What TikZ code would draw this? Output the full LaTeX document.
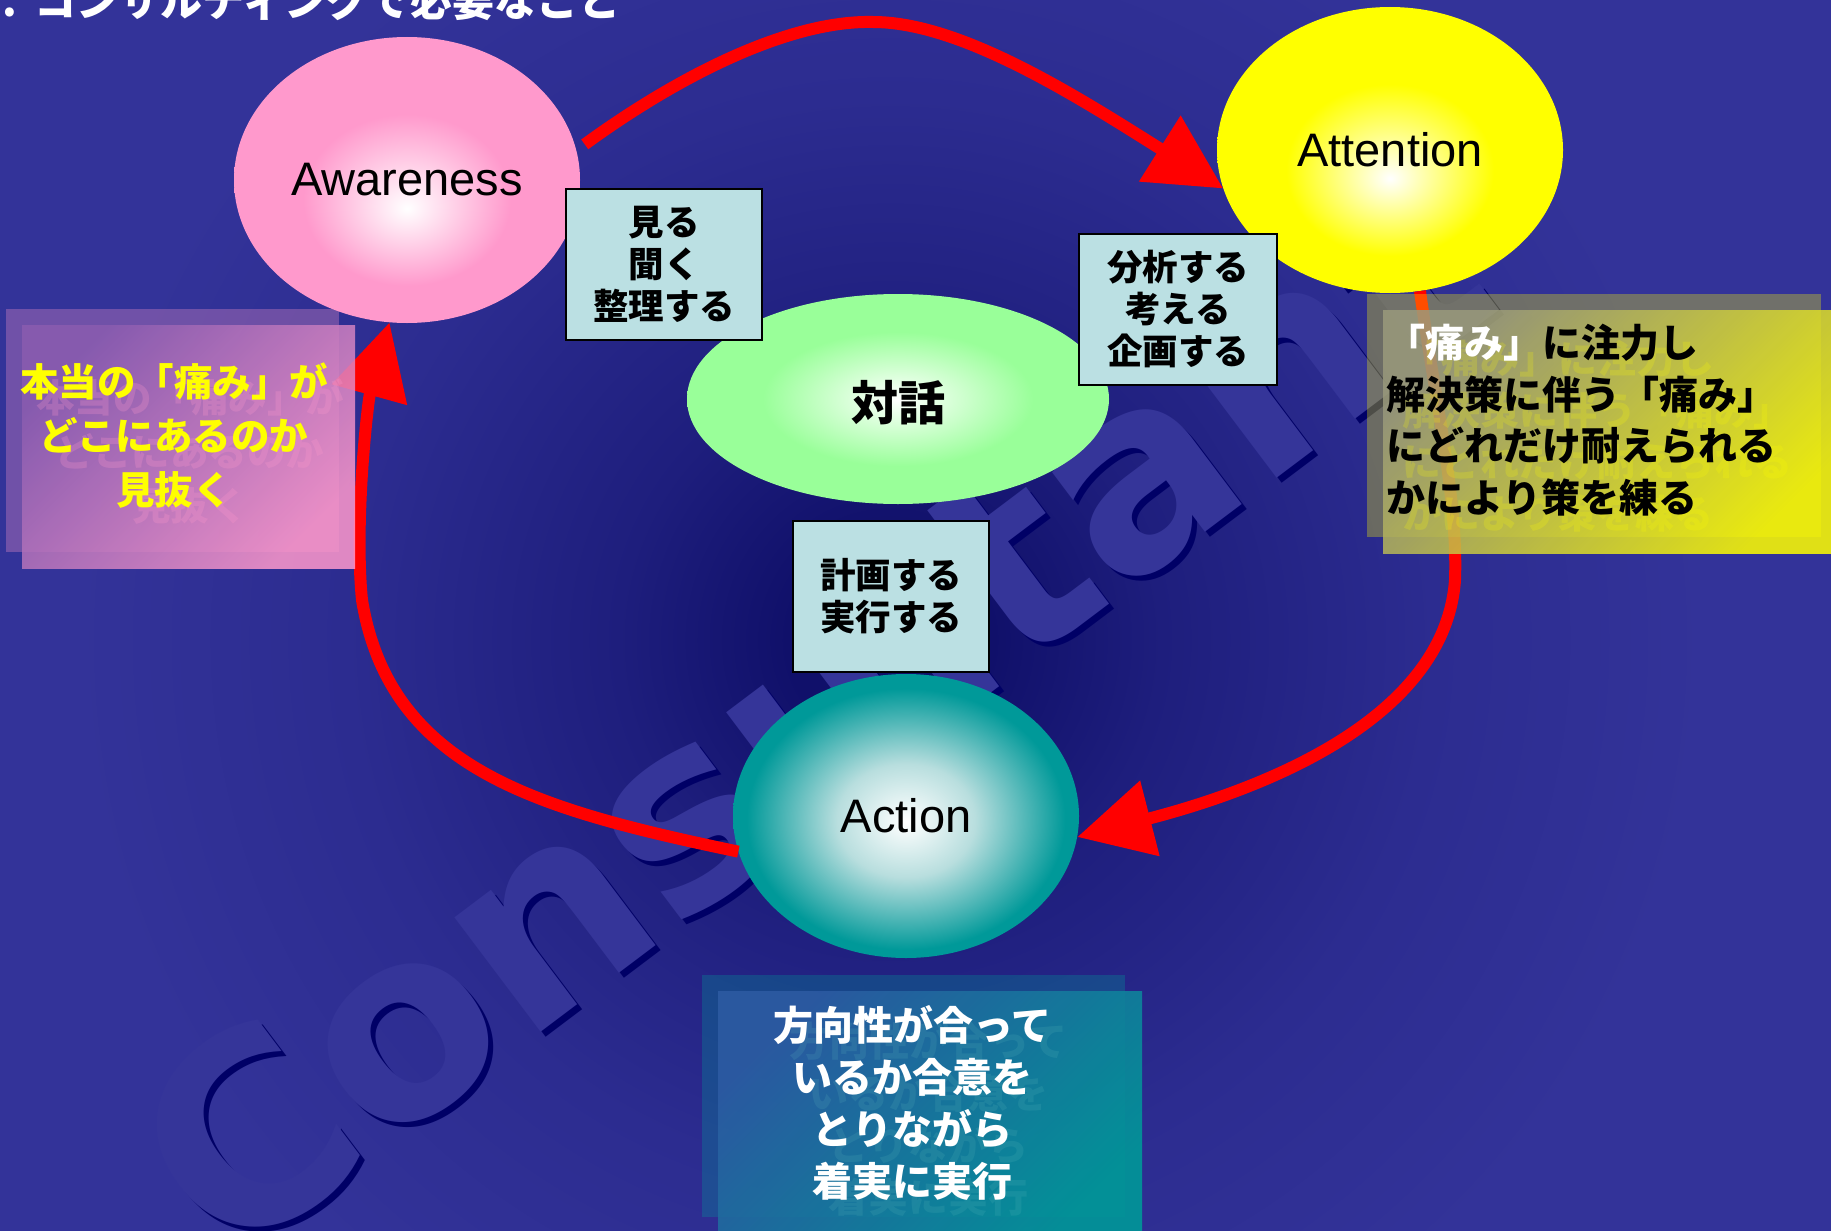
\documentclass[tikz,border=0pt]{standalone}
\usepackage{fontspec}
\setmainfont{Liberation Sans}
\newfontfamily\jp{Noto Sans CJK JP}
\newfontfamily\wmfont{DejaVu Sans}
\usetikzlibrary{shapes.geometric,arrows.meta}
\definecolor{bgmain}{HTML}{333399}
\definecolor{bgdark}{HTML}{10106A}
\definecolor{bgmid}{HTML}{1E1E7D}
\definecolor{bgmid2}{HTML}{2C2C90}
\definecolor{pinkc}{HTML}{FF99CC}
\definecolor{yelc}{HTML}{FFFF00}
\definecolor{greenc}{HTML}{99FF99}
\definecolor{tealc}{HTML}{009999}
\definecolor{tealmid}{HTML}{B8DEDE}
\definecolor{boxc}{HTML}{BBE0E3}
\definecolor{wmc}{HTML}{353599}
\definecolor{wmshadow}{HTML}{000066}
\definecolor{pinkA}{HTML}{8A5CB0}
\definecolor{yelA}{HTML}{9A9A7C}
\definecolor{tealA}{HTML}{2C5AA2}
\definecolor{tealB}{HTML}{009898}
\pgfdeclareradialshading{bgrad}{\pgfpoint{0bp}{0bp}}{color(0bp)=(bgdark); color(1.5bp)=(bgdark); color(4bp)=(bgmid); color(8bp)=(bgmid2); color(12bp)=(bgmain); color(50bp)=(bgmain)}
\pgfdeclareradialshading{shpink}{\pgfpoint{0bp}{-5bp}}{color(0bp)=(white); color(15bp)=(pinkc); color(50bp)=(pinkc)}
\pgfdeclareradialshading{shyel}{\pgfpoint{0bp}{-5bp}}{color(0bp)=(white); color(15bp)=(yelc); color(50bp)=(yelc)}
\pgfdeclareradialshading{shgreen}{\pgfpoint{0bp}{0bp}}{color(0bp)=(white); color(16bp)=(greenc); color(50bp)=(greenc)}
\pgfdeclareradialshading{shteal}{\pgfpoint{0bp}{-1bp}}{color(0bp)=(white); color(10bp)=(tealmid); color(23bp)=(tealc); color(50bp)=(tealc)}
\begin{document}
\begin{tikzpicture}[x=1pt,y=-1pt,
  redarrow/.style={draw=red, line width=12pt, -{Triangle[length=75pt,width=75pt]}},
  ball/.style={ellipse, inner sep=0pt, shade, text=black},
  latin/.style={font=\fontsize{47}{50}\selectfont},
  labelbox/.style={rectangle, draw=black, line width=2pt, fill=boxc, inner sep=0pt,
    minimum width=196pt, minimum height=151pt, align=center, text=black,
    font=\jp\bfseries\fontsize{35.5}{42}\selectfont},
  wmtext/.style={rotate=37, anchor=base west, inner sep=0pt, font=\wmfont\bfseries\fontsize{262}{270}\selectfont},
  calltext/.style={inner sep=0pt, align=center}]
\useasboundingbox (0,0) rectangle (1831,1231);
\clip (0,0) rectangle (1831,1231);
% background
\fill[bgmain] (0,0) rectangle (1831,1231);
\shade[shading=bgrad] (890,640) circle (1700pt);
% watermark
\node[wmtext, text=wmshadow] (wmsh) at (231,1275) {Consultant};
\node[wmtext, text=wmc] (wm) at (226,1270) {Consultant};
% ellipse nodes
\node[ball, shading=shpink, minimum width=346pt, minimum height=286pt] (aw) at (407,180) {};
\node[ball, shading=shyel, minimum width=346pt, minimum height=286pt] (at) at (1390,150) {};
\node[ball, shading=shteal, minimum width=346pt, minimum height=284pt] (ac) at (906,816) {};
\node[ball, shading=shgreen, minimum width=422pt, minimum height=210pt] (dl) at (898,399) {};
% arrows
\draw[redarrow] ([xshift=10pt]aw.12) .. controls (680,75) and (790,20) .. (873,22)
   .. controls (960,22) and (1075,95) .. (at.193);
\draw[redarrow] (ac.192) .. controls (540,810) and (390,770) .. (362,600)
   .. controls (354,520) and (368,400) .. (aw.-97);
\draw[redarrow] (at.-78) .. controls (1435,400) and (1458,500) .. (1455,580)
   .. controls (1445,720) and (1260,790) .. (ac.-7);
% labels
\node[latin] (awl) at (aw) {Awareness};
\node[latin] (atl) at (at) {Attention};
\node[latin] (acl) at (ac) {Action};
\node[font=\jp\bfseries\fontsize{47}{50}\selectfont] (dll) at (898,403) {対話};
% label boxes
\node[labelbox] (b1) at (664,264.5) {見る\\聞く\\整理する};
\node[labelbox, minimum width=198pt] (b2) at (1178,309.5) {分析する\\考える\\企画する};
\node[labelbox] (b3) at (891,596.5) {計画する\\実行する};
% left callout
\fill[pinkc, fill opacity=0.3] (6,309) rectangle (339,552);
\shade[top color=pinkA, bottom color=pinkc, shading angle=45, opacity=0.85] (22,325) rectangle (355,568);
\node[calltext, text=pinkc, opacity=0.25, font=\jp\bfseries\fontsize{38.5}{54}\selectfont] (lgh) at (190,452)
  {本当の「痛み」が\\どこにあるのか\\見抜く};
\node[calltext, text=yelc, font=\jp\bfseries\fontsize{38.5}{54}\selectfont] (lt) at (174,436)
  {本当の「痛み」が\\どこにあるのか\\見抜く};
% right callout
\fill[yelc, fill opacity=0.3] (1367,294) rectangle (1821,537);
\shade[top color=yelA, bottom color=yelc, shading angle=45, opacity=0.85] (1383,310) rectangle (1845,553);
\node[calltext, align=left, anchor=west, text=yelc, opacity=0.2, font=\jp\bfseries\fontsize{39}{51.5}\selectfont] (rgh) at (1402,436)
  {「痛み」に注力し\\解決策に伴う「痛み」\\にどれだけ耐えられる\\かにより策を練る};
\node[calltext, align=left, anchor=west, text=black, font=\jp\bfseries\fontsize{39}{51.5}\selectfont] (rt) at (1386,420)
  {\textcolor{white}{「痛み」}に注力し\\解決策に伴う「痛み」\\にどれだけ耐えられる\\かにより策を練る};
% bottom callout
\fill[tealc, fill opacity=0.3] (702,975) rectangle (1125,1217);
\shade[top color=tealA, bottom color=tealB, shading angle=45, opacity=0.9] (718,991) rectangle (1142,1245);
\node[calltext, text=tealc!60!white, opacity=0.15, font=\jp\bfseries\fontsize{40}{52}\selectfont] (bgh) at (928,1119)
  {方向性が合って\\いるか合意を\\とりながら\\着実に実行};
\node[calltext, text=white, font=\jp\bfseries\fontsize{40}{52}\selectfont] (bt) at (912,1103)
  {方向性が合って\\いるか合意を\\とりながら\\着実に実行};
% title (cut at top)
\node[anchor=base west, inner sep=0pt, text=white, font=\jp\bfseries\fontsize{42}{46}\selectfont] (title) at (2,17)
  {.\hspace{18pt}コンサルティングで必要なこと};
\end{tikzpicture}
\end{document}
